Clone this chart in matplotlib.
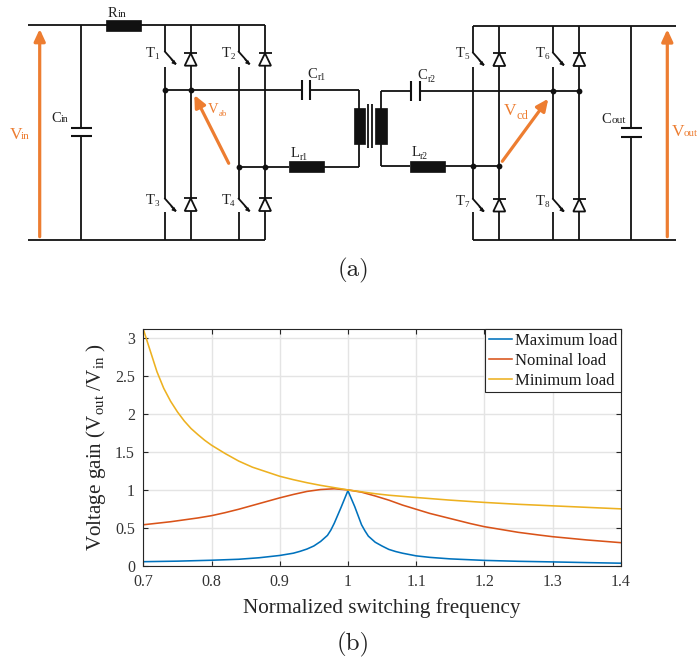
import matplotlib
matplotlib.use("Agg")
import matplotlib.pyplot as plt
from matplotlib.patches import Rectangle, Polygon

plt.rcParams['font.family'] = ['Liberation Serif', 'DejaVu Serif']
plt.rcParams['mathtext.fontset'] = 'custom'
plt.rcParams['mathtext.rm'] = 'Liberation Serif'
plt.rcParams['mathtext.it'] = 'Liberation Serif:italic'
plt.rcParams['mathtext.bf'] = 'Liberation Serif:bold'

# ---- chart data (panel b) ----
freq_max = [0.7, 0.75, 0.8, 0.84, 0.87, 0.9, 0.92, 0.93, 0.94, 0.95, 0.96, 0.97, 0.975, 0.98, 0.99, 1.0,
            1.01, 1.02, 1.025, 1.03, 1.04, 1.05, 1.06, 1.07, 1.08, 1.1, 1.12, 1.15, 1.2, 1.25, 1.3, 1.35, 1.4]
gain_max = [0.053, 0.06, 0.072, 0.085, 0.105, 0.135, 0.165, 0.19, 0.22, 0.26, 0.32, 0.40, 0.47, 0.56, 0.77, 0.99,
            0.78, 0.54, 0.46, 0.39, 0.31, 0.26, 0.215, 0.187, 0.165, 0.13, 0.11, 0.09, 0.07, 0.058, 0.05, 0.041, 0.033]
freq_nom = [0.7, 0.72, 0.74, 0.76, 0.78, 0.8, 0.82, 0.84, 0.86, 0.88, 0.9, 0.92, 0.94, 0.96, 0.98, 1.0,
            1.02, 1.04, 1.06, 1.08, 1.1, 1.12, 1.14, 1.16, 1.18, 1.2, 1.22, 1.25, 1.28, 1.3, 1.35, 1.4]
gain_nom = [0.54, 0.56, 0.58, 0.605, 0.63, 0.66, 0.70, 0.745, 0.795, 0.845, 0.895, 0.94, 0.98, 1.005, 1.015, 1.0,
            0.97, 0.92, 0.865, 0.80, 0.745, 0.69, 0.645, 0.60, 0.555, 0.515, 0.485, 0.44, 0.405, 0.383, 0.34, 0.304]
freq_min = [0.7, 0.705, 0.71, 0.715, 0.72, 0.73, 0.74, 0.75, 0.76, 0.77, 0.78, 0.79, 0.8, 0.82, 0.84, 0.86, 0.88,
            0.9, 0.92, 0.94, 0.96, 0.98, 1.0, 1.02, 1.04, 1.06, 1.08, 1.1, 1.15, 1.2, 1.25, 1.3, 1.35, 1.4]
gain_min = [3.12, 2.98, 2.84, 2.70, 2.56, 2.34, 2.17, 2.03, 1.91, 1.81, 1.73, 1.655, 1.59, 1.48, 1.38, 1.30, 1.24,
            1.18, 1.135, 1.095, 1.06, 1.03, 1.0, 0.975, 0.95, 0.93, 0.915, 0.90, 0.865, 0.835, 0.81, 0.79, 0.77, 0.75]
series_names = ['Maximum load', 'Nominal load', 'Minimum load']
series_colors = ['#0072BD', '#D95319', '#EDB120']
x_ticks = [0.7, 0.8, 0.9, 1.0, 1.1, 1.2, 1.3, 1.4]
x_tick_labels = ['0.7', '0.8', '0.9', '1', '1.1', '1.2', '1.3', '1.4']
y_ticks = [0, 0.5, 1, 1.5, 2, 2.5, 3]
y_tick_labels = ['0', '0.5', '1', '1.5', '2', '2.5', '3']

W, H = 698, 659
fig = plt.figure(figsize=(W / 100, H / 100), dpi=100)

# ---- schematic (panel a), drawn in pixel space ----
sch = fig.add_axes([0, 0, 1, 1])
sch.set_xlim(0, W)
sch.set_ylim(H, 0)
sch.axis('off')
BLACK = '#111111'
ORANGE = '#ED7D31'
LW = 1.3


def wire(*pts, lw=LW):
    xs, ys = zip(*pts)
    sch.plot(xs, ys, color=BLACK, lw=lw, solid_capstyle='butt', solid_joinstyle='miter', zorder=2)


def block(x0, x1, y0, y1):
    sch.add_patch(Rectangle((x0, y0), x1 - x0, y1 - y0, fc=BLACK, ec=BLACK, lw=0.5, zorder=3))


def node(x, y):
    sch.plot([x], [y], 'o', color=BLACK, ms=4.2, mew=0, zorder=4)


def blade(x, y):
    sch.plot([x, x + 10.5], [y, y + 11.8], color=BLACK, lw=LW, zorder=2)
    sch.annotate('', xy=(x + 11, y + 13.3), xytext=(x + 6, y + 7.8),
                 arrowprops=dict(arrowstyle='-|>', color=BLACK, lw=0.6, mutation_scale=6,
                                 shrinkA=0, shrinkB=0))


def leg(x, y0, y1, g1, g2, g3, g4):
    wire((x, y0), (x, g1))
    blade(x, g1)
    wire((x, g2), (x, g3))
    blade(x, g3)
    wire((x, g4), (x, y1))


def diode(x, ybar, ybase):
    sch.add_patch(Polygon([(x - 6, ybase), (x + 6, ybase), (x, ybar)], closed=True,
                          fc='white', ec=BLACK, lw=LW, zorder=3))
    wire((x - 6.5, ybar), (x + 6.5, ybar))


def cap_v(x, y0, y1, ytop, ybot, x0, x1):
    wire((x, y0), (x, ytop))
    wire((x, ybot), (x, y1))
    wire((x0, ytop), (x1, ytop), lw=1.5)
    wire((x0, ybot), (x1, ybot), lw=1.5)


def varrow(p0, p1):
    sch.annotate('', xy=p1, xytext=p0,
                 arrowprops=dict(arrowstyle='-|>,head_width=0.3,head_length=0.65', color=ORANGE,
                                 lw=2.3, mutation_scale=11, shrinkA=0, shrinkB=0), zorder=5)


def label(x, y, main, sub, xs, ys, size=10.5, subsize=7.5, color='#222222'):
    sch.text(x, y, main, fontsize=size, color=color, ha='left', va='baseline')
    sch.text(xs, ys, sub, fontsize=subsize, color=color, ha='left', va='baseline')


# left bridge
wire((27.7, 25), (265, 25))
wire((27.7, 239.5), (265, 239.5))
block(105.7, 140.7, 19.7, 30.7)
cap_v(81, 25, 239.5, 127.7, 136, 71, 91.7)
varrow((39.7, 236.7), (39.7, 29))
leg(165, 25, 239.5, 51.7, 66.7, 198.7, 212)
leg(238.7, 25, 239.5, 51.7, 66.7, 198.7, 212)
for dx in (190.7, 265):
    wire((dx, 25), (dx, 239.5))
    diode(dx, 53.3, 65.7)
    diode(dx, 198.3, 211)
wire((165, 90), (301.7, 90))
wire((301.7, 80), (301.7, 100), lw=1.5)
wire((310.3, 80), (310.3, 100), lw=1.5)
wire((310.3, 90), (359, 90))
wire((238.7, 166.7), (289.3, 166.7))
block(289.3, 324.3, 161, 172)
wire((324.3, 166.7), (359, 166.7))
wire((359, 90), (359, 166.7))
for nx, ny in [(165, 90), (190.7, 90), (238.7, 166.7), (265, 166.7)]:
    node(nx, ny)
varrow((228.7, 163.3), (194.3, 95))

# transformer
block(353.7, 365, 108.3, 144)
block(375.3, 386.7, 108.3, 144)
wire((367.7, 104), (367.7, 148.3))
wire((372.3, 104), (372.3, 148.3))
wire((380.7, 90.7), (380.7, 165.7))

# right bridge
wire((473, 25.7), (676, 25.7))
wire((473, 240), (676, 240))
wire((380.7, 91), (411.3, 91))
wire((411.3, 81), (411.3, 101), lw=1.5)
wire((420.3, 81), (420.3, 101), lw=1.5)
wire((420.3, 91), (579.3, 91))
wire((380.7, 165.7), (410, 165.7))
block(410, 445.3, 160.7, 172.3)
wire((445.3, 166), (499.3, 166))
leg(473, 25.7, 240, 52.7, 67.3, 199, 212.3)
leg(553, 25.7, 240, 52.7, 67.3, 199, 212.3)
for dx in (499.3, 579.3):
    wire((dx, 25.7), (dx, 240))
    diode(dx, 53.3, 66)
    diode(dx, 199, 211.5)
cap_v(631, 25.7, 240, 128.3, 136.7, 621.3, 642)
for nx, ny in [(553, 91), (579.3, 91), (473, 166), (499.3, 166)]:
    node(nx, ny)
varrow((502.3, 161.3), (548.3, 98.7))
varrow((667.3, 236.7), (667.3, 29.3))

# schematic labels
label(107.7, 16.7, 'R', 'in', 118, 16.7, subsize=8)
label(51, 122, 'C', 'in', 61, 122, subsize=7)
label(10, 138.7, 'V', 'in', 21, 138.7, size=12.5, subsize=8, color=ORANGE)
label(146, 57.3, 'T', '1', 154.5, 59, subsize=6.5)
label(221.7, 57.3, 'T', '2', 230.3, 59, subsize=6.5)
label(146, 204, 'T', '3', 154.5, 206, subsize=6.5)
label(221.7, 204, 'T', '4', 230.3, 206, subsize=6.5)
label(307.7, 77.7, 'C', 'r1', 317.5, 80.3, subsize=7)
label(291, 157.3, 'L', 'r1', 299.5, 160.3, subsize=7)
label(208.3, 112.7, 'V', 'ab', 218.5, 115.7, size=10.5, subsize=6.3, color=ORANGE)
label(456, 57.3, 'T', '5', 464.5, 59, subsize=6.5)
label(535.7, 57.3, 'T', '6', 544.2, 59, subsize=6.5)
label(456, 205, 'T', '7', 464.5, 207, subsize=6.5)
label(535.7, 205, 'T', '8', 544.2, 207, subsize=6.5)
label(417.7, 79, 'C', 'r2', 427.5, 82, subsize=7)
label(411.7, 156, 'L', 'r2', 420.3, 159, subsize=7)
label(504, 115, 'V', 'cd', 516.5, 119, size=12.5, subsize=9, color=ORANGE)
label(601.7, 123, 'C', 'out', 611.5, 123, subsize=8.2)
label(671.7, 135.7, 'V', 'out', 684, 135.7, size=12.5, subsize=8, color=ORANGE)

sch.text(353, 276, '(a)', fontsize=18, family='cmr10', color='#222222', ha='center', va='baseline')
sch.text(353, 650, '(b)', fontsize=18, family='cmr10', color='#222222', ha='center', va='baseline')

# ---- plot (panel b) ----
left, right, top, bottom = 143.3, 620.7, 329, 565.7
ax = fig.add_axes([left / W, 1 - bottom / H, (right - left) / W, (bottom - top) / H])
ax.set_facecolor('white')
ax.plot(freq_max, gain_max, color=series_colors[0], lw=1.15, label=series_names[0])
ax.plot(freq_nom, gain_nom, color=series_colors[1], lw=1.15, label=series_names[1])
ax.plot(freq_min, gain_min, color=series_colors[2], lw=1.15, label=series_names[2])
ax.set_xlim(0.7, 1.4)
ax.set_ylim(0, 3.123)
ax.set_xticks(x_ticks, x_tick_labels)
ax.set_yticks(y_ticks, y_tick_labels)
ax.grid(True, color='#e4e4e4', lw=1.0)
ax.set_axisbelow(True)
ax.tick_params(direction='in', top=True, right=True, length=3.6, width=0.8, color='#262626',
               labelsize=11.5, labelcolor='#333333', pad=6)
for s in ax.spines.values():
    s.set_color('#262626')
    s.set_linewidth(0.8)
ax.set_xlabel('Normalized switching frequency', fontsize=15.2, color='#262626', labelpad=5.5)
ax.set_ylabel(r'Voltage gain (V$_{\mathrm{out}}$ /V$_{\mathrm{in}}$ )', fontsize=15.2, color='#262626', labelpad=5)
leg_box = ax.legend(loc='upper right', fontsize=12, frameon=True, fancybox=False, framealpha=1,
                    edgecolor='#262626', borderaxespad=0, borderpad=0.22, labelspacing=0.24,
                    handlelength=1.4, handletextpad=0.16, labelcolor='#1a1a1a')
leg_box.get_frame().set_linewidth(0.8)
for line in leg_box.get_lines():
    line.set_linewidth(1.15)

fig.savefig('out.png', dpi=100)
